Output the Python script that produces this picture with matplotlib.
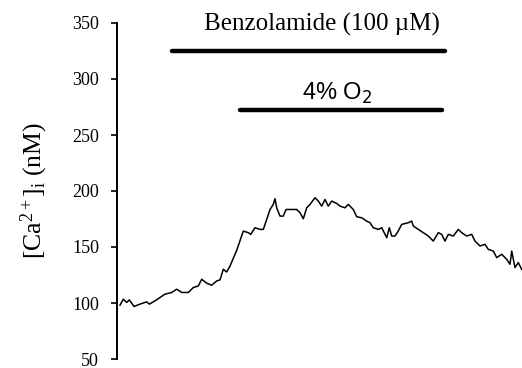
import matplotlib
matplotlib.use("Agg")
import matplotlib.pyplot as plt

# Intracellular calcium trace (time in s, [Ca2+]i in nM)
time_s = [3, 6.3, 9.7, 12.3, 17, 23, 29.7, 32.3, 38, 43,
          48, 54.7, 59.7, 64.7, 71.3, 76.3, 81.3, 84.7, 89.7, 94.7,
          99.7, 103, 106.3, 109.7, 113, 119.7, 126.3, 131.3, 133.7, 138,
          143, 146.3, 149.7, 153, 156.3, 158, 159.7, 163, 166.3, 169,
          173, 179.7, 183, 186.3, 189.7, 193, 198, 201.3, 204.7, 208,
          211.3, 214.7, 219.7, 223, 228, 231.3, 236.3, 239.7, 244.7, 249.7,
          253, 256.3, 261.3, 264.7, 269.7, 272.3, 274.7, 278, 281.3, 284.7,
          291.3, 294.7, 296.3, 301.3, 306.3, 311.3, 316.3, 321.3, 324.7, 328,
          331.3, 336.3, 341.3, 344.7, 349.7, 354.7, 358, 363, 368, 371.3,
          376.3, 379.7, 384.7, 389.7, 393, 394.7, 398, 401.3, 404.7]
ca_nM = [98.1, 103.4, 100.5, 102.8, 96.9, 99.0, 101.0, 99.0, 101.9, 104.9,
         107.9, 109.4, 112.3, 109.4, 109.4, 113.8, 115.2, 121.2, 117.7, 115.9,
         119.7, 120.6, 130.1, 127.7, 133.0, 147.0, 164.2, 162.8, 161.3, 167.2,
         165.7, 165.7, 174.6, 183.5, 188.0, 193.1, 185.0, 177.6, 177.6, 183.5,
         183.5, 183.5, 180.6, 175.2, 185.0, 188.0, 194.0, 191.0, 186.5, 192.4,
         186.5, 191.0, 188.9, 186.5, 185.0, 188.0, 183.5, 177.0, 176.1, 173.1,
         171.7, 167.2, 165.7, 167.2, 158.3, 167.2, 159.8, 159.8, 164.3, 170.2,
         171.7, 173.1, 168.7, 165.7, 162.8, 159.8, 155.3, 162.8, 161.3, 155.3,
         161.3, 159.8, 165.7, 162.8, 159.8, 161.3, 155.3, 150.9, 152.4, 147.9,
         146.4, 140.5, 143.5, 139.0, 134.6, 146.4, 131.6, 136.1, 130.1]

# Treatment periods: (start, end) in s and bar height in nM
benzolamide_period = (55, 328)
benzolamide_level = 325
hypoxia_period = (123, 325)
hypoxia_level = 272

y_ticks = [50, 100, 150, 200, 250, 300, 350]

plt.rcParams["font.family"] = ["Liberation Serif", "DejaVu Serif"]
plt.rcParams["mathtext.fontset"] = "custom"
plt.rcParams["mathtext.rm"] = "Liberation Serif"
plt.rcParams["mathtext.it"] = "Liberation Serif:italic"

fig = plt.figure(figsize=(5.22, 3.68), dpi=100)
ax = fig.add_axes([117 / 522, 1 - 359 / 368, 1 - 117 / 522, (359 - 23) / 368])

ax.plot(time_s, ca_nM, color="black", lw=1.1, clip_on=False)

ax.plot(benzolamide_period, [benzolamide_level] * 2, color="black", lw=3.2,
        solid_capstyle="round", clip_on=False)
ax.plot(hypoxia_period, [hypoxia_level] * 2, color="black", lw=3.2,
        solid_capstyle="round", clip_on=False)

ax.text(205, 343, "Benzolamide (100 \u00b5M)", ha="center", va="baseline",
        fontsize=18)
ax.text(220, 281, "4% O$_2$", ha="center", va="baseline", fontsize=17,
        family=["Liberation Sans", "DejaVu Sans"],
        math_fontfamily="dejavusans")

ax.set_xlim(0, 405)
ax.set_ylim(50, 350)
ax.set_yticks(y_ticks)
ax.tick_params(axis="y", direction="out", length=4, width=1.2, pad=9,
               labelsize=13)
ax.set_xticks([])
for side in ("top", "right", "bottom"):
    ax.spines[side].set_visible(False)
ax.spines["left"].set_linewidth(1.4)
ax.patch.set_visible(False)

ax.set_ylabel(r"[Ca$^{2+}$]$_{\mathrm{i}}$ (nM)", fontsize=18.5, labelpad=16)

fig.savefig("out.png", dpi=100)
